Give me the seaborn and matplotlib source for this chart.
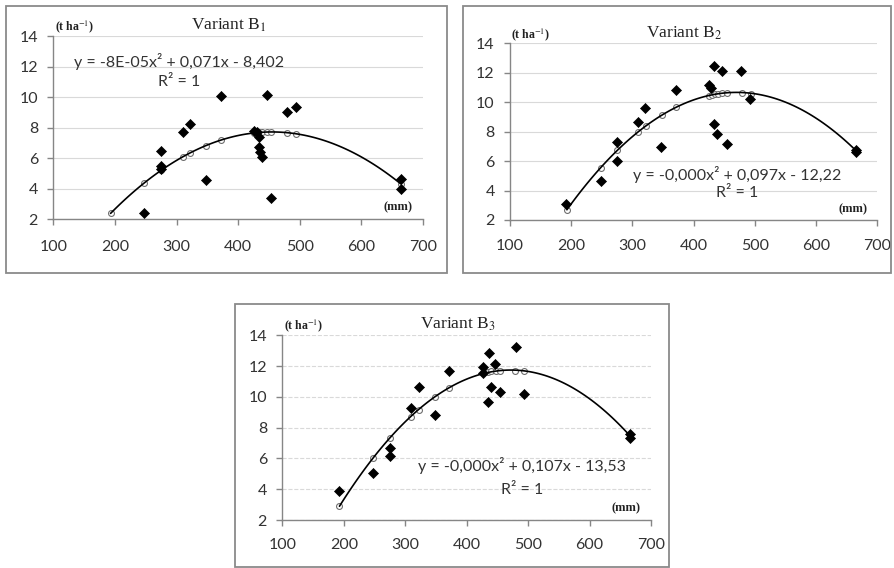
import numpy as np
import seaborn as sns
import matplotlib.pyplot as plt
from matplotlib.patches import Rectangle

# Rainfall (mm) and yield (t/ha)
# Variant B1
b1_obs_x = [248, 275, 275, 275, 310, 322, 348, 372, 426, 430, 434, 434, 435, 438, 447, 454, 479, 494, 664, 664]
b1_obs_y = [2.4, 6.45, 5.45, 5.25, 7.72, 8.2, 4.56, 10.08, 7.8, 7.7, 7.36, 6.7, 6.4, 6.05, 10.15, 3.38, 9.0, 9.36, 4.62, 4.0]
b1_fit_x = [193, 248, 275, 310, 322, 348, 372, 426, 434, 438, 447, 454, 479, 494, 664]
b1_fit_y = [2.37, 4.38, 5.19, 6.08, 6.33, 6.82, 7.17, 7.64, 7.68, 7.69, 7.71, 7.71, 7.66, 7.59, 4.3]

# Variant B2
b2_obs_x = [192, 248, 275, 275, 309, 321, 347, 372, 425, 428, 433, 446, 478, 493, 433, 438, 454, 665, 665]
b2_obs_y = [3.07, 4.62, 7.3, 6.0, 8.65, 9.6, 6.95, 10.85, 11.15, 10.95, 12.45, 12.15, 12.15, 10.2, 8.55, 7.85, 7.15, 6.75, 6.65]
b2_fit_x = [193, 248, 275, 310, 322, 348, 372, 425, 430, 435, 440, 447, 454, 479, 494, 665]
b2_fit_y = [2.68, 5.55, 6.72, 7.98, 8.4, 9.12, 9.7, 10.45, 10.5, 10.55, 10.58, 10.6, 10.62, 10.64, 10.58, 6.75]

# Variant B3
b3_obs_x = [193, 248, 275, 275, 310, 322, 348, 372, 426, 427, 435, 436, 440, 446, 454, 480, 494, 665, 665]
b3_obs_y = [3.89, 5.04, 6.7, 6.18, 9.26, 10.63, 8.83, 11.67, 11.97, 11.58, 9.65, 12.88, 10.63, 12.15, 10.3, 13.23, 10.2, 7.57, 7.32]
b3_fit_x = [193, 248, 275, 310, 322, 348, 372, 426, 430, 435, 440, 447, 454, 479, 494, 665]
b3_fit_y = [2.93, 6.05, 7.3, 8.72, 9.15, 10.02, 10.57, 11.55, 11.6, 11.62, 11.65, 11.68, 11.69, 11.7, 11.65, 7.5]

titles = ['Variant B$_1$', 'Variant B$_2$', 'Variant B$_3$']
equations = ['y = -8E-05x² + 0,071x - 8,402',
             'y = -0,000x² + 0,097x - 12,22',
             'y = -0,000x² + 0,107x - 13,53']

sns.set_style("white")
plt.rcParams['font.family'] = ['Lato', 'DejaVu Sans']
plt.rcParams['mathtext.fontset'] = 'stix'

fig = plt.figure(figsize=(8.94, 5.68), dpi=100)

# grey frames around each chart (pixel boxes of the original)
W, H = 894, 568
for x0, y0, x1, y1 in [(6, 6, 447, 273), (463, 6, 891, 273), (235, 304, 669, 567)]:
    fig.add_artist(Rectangle((x0 / W, 1 - y1 / H), (x1 - x0) / W, (y1 - y0) / H,
                             transform=fig.transFigure, fill=False,
                             edgecolor='#8a8a8a', lw=1.3))

ax1 = fig.add_axes([0.0596, 0.6144, 0.4136, 0.3222])
ax2 = fig.add_axes([0.5705, 0.6127, 0.4105, 0.3111])
ax3 = fig.add_axes([0.3158, 0.0845, 0.4124, 0.3252])

panels = [
    (ax1, b1_obs_x, b1_obs_y, b1_fit_x, b1_fit_y, (304, 12.3), (304, 11.0), '-', 11),
    (ax2, b2_obs_x, b2_obs_y, b2_fit_x, b2_fit_y, (472, 5.08), (472, 3.8), '-', 10),
    (ax3, b3_obs_x, b3_obs_y, b3_fit_x, b3_fit_y, (490, 5.57), (490, 3.95), '--', 9),
]

for i, (ax, ox, oy, fx, fy, eq_pos, r2_pos, gls, xpad) in enumerate(panels):
    ax.set_facecolor('none')
    # fitted values (hollow circles)
    sns.scatterplot(x=fx, y=fy, marker='o', s=18, facecolor='white',
                    edgecolor='#6e6e6e', linewidth=0.8, ax=ax, zorder=2)
    # polynomial trendline, order 2
    sns.regplot(x=fx, y=fy, order=2, scatter=False, ci=None, truncate=True,
                line_kws=dict(color='black', lw=1.2, zorder=3), ax=ax)
    # observed yields (black diamonds)
    sns.scatterplot(x=ox, y=oy, marker='D', s=26, color='black',
                    edgecolor='black', linewidth=0.5, ax=ax, zorder=4)

    ax.set_xlim(100, 700)
    ax.set_ylim(2, 14)
    ax.set_xticks(range(100, 701, 100))
    ax.set_yticks(range(2, 15, 2))
    ax.set_xlabel('')
    ax.set_ylabel('')
    ax.grid(axis='y', color='#d9d9d9', lw=0.8, linestyle=gls)
    ax.set_axisbelow(True)
    for s in ['top', 'right']:
        ax.spines[s].set_visible(False)
    for s in ['left', 'bottom']:
        ax.spines[s].set_color('#868686')
        ax.spines[s].set_linewidth(1.0)
    ax.tick_params(axis='both', direction='out', length=4, width=1.0,
                   color='#868686', labelsize=11.5, labelcolor='#333333')
    ax.tick_params(axis='x', pad=xpad, bottom=True)
    ax.tick_params(axis='y', pad=7, left=True)

    ax.text(385, 14.7, titles[i], family='Liberation Serif', fontsize=12.5,
            ha='center', va='center', color='#222222', clip_on=False)
    ax.text(102, 14.6, '(t ha$^{-1}$)', family='Liberation Serif', fontsize=8.5,
            fontweight='bold', ha='left', va='center', color='#222222', clip_on=False)
    ax.text(660, 2.75, '(mm)', family='Liberation Serif', fontsize=9,
            fontweight='bold', ha='center', va='center', color='#222222')
    ax.text(eq_pos[0], eq_pos[1], equations[i], fontsize=11.5,
            ha='center', va='center', color='#333333')
    ax.text(r2_pos[0], r2_pos[1], 'R² = 1', fontsize=11.5,
            ha='center', va='center', color='#333333')

fig.savefig('out.png', dpi=100)
